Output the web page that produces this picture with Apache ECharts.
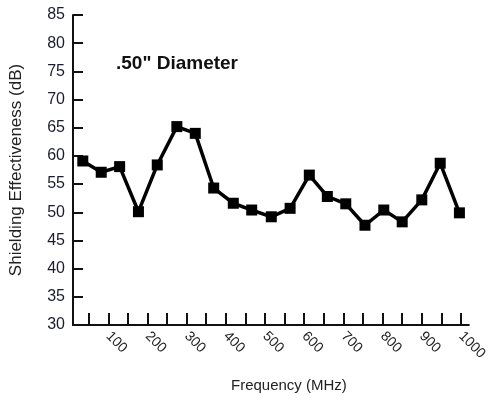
<!DOCTYPE html>
<html>
<head>
<meta charset="utf-8">
<script src="https://cdn.jsdelivr.net/npm/echarts@6/dist/echarts.min.js"></script>
<style>
html,body{margin:0;padding:0;background:#fff;}
#chart{width:490px;height:401px;}
</style>
</head>
<body>
<div id="chart"></div>
<script>
// Frequency (MHz) of each measured point
const frequencies = [35, 82, 129, 177, 225, 275, 322, 369, 419, 466, 516, 564, 613, 659, 706, 755, 803, 850, 900, 947, 996];
// Shielding effectiveness (dB)
const shielding = [59.1, 57.1, 58.1, 50.1, 58.4, 65.2, 64.0, 54.3, 51.6, 50.4, 49.2, 50.7, 56.6, 52.8, 51.5, 47.7, 50.4, 48.3, 52.2, 58.7, 49.9];
// x tick positions and labels
const xTicks = [50, 100, 150, 200, 250, 300, 350, 400, 450, 500, 550, 600, 650, 700, 750, 800, 850, 900, 950, 1000];
const xLabels = [100, 200, 300, 400, 500, 600, 700, 800, 900, 1000];
const titleText = '.50" Diameter';

const chart = echarts.init(document.getElementById('chart'));
const font = 'Liberation Sans, Arial, Helvetica, sans-serif';
chart.setOption({
  animation: false,
  backgroundColor: '#ffffff',
  title: {
    text: titleText,
    left: 116,
    top: 54,
    padding: 0,
    textStyle: { fontFamily: font, fontSize: 19, fontWeight: 'bold', color: '#111' }
  },
  grid: { left: 69, right: 13, top: 15, bottom: 76, containLabel: false },
  xAxis: {
    type: 'value',
    min: 10,
    max: 1020,
    name: 'Frequency (MHz)',
    nameLocation: 'middle',
    nameGap: 53,
    nameTextStyle: { fontFamily: font, fontSize: 15, color: '#222', padding: [0, 0, 0, 36] },
    axisLine: { show: true, lineStyle: { color: '#111', width: 2 } },
    axisTick: { show: true, inside: true, length: 12, customValues: xTicks, lineStyle: { color: '#111', width: 2 } },
    axisLabel: {
      customValues: xLabels,
      rotate: -45,
      margin: 9,
      fontFamily: font,
      fontSize: 14,
      color: '#222',
      formatter: v => String(v)
    },
    splitLine: { show: false }
  },
  yAxis: {
    type: 'value',
    min: 30,
    max: 85,
    interval: 5,
    name: 'Shielding Effectiveness (dB)',
    nameLocation: 'middle',
    nameGap: 48,
    nameRotate: 90,
    nameTextStyle: { fontFamily: font, fontSize: 17, color: '#222' },
    axisLine: { show: true, lineStyle: { color: '#111', width: 2 } },
    axisTick: { show: true, inside: true, length: 10, lineStyle: { color: '#111', width: 2 } },
    axisLabel: { margin: 8, fontFamily: font, fontSize: 16, color: '#1c1c30' },
    splitLine: { show: false }
  },
  series: [{
    type: 'line',
    data: frequencies.map((f, i) => [f, shielding[i]]),
    symbol: 'rect',
    symbolSize: 11,
    lineStyle: { color: '#000', width: 3.5 },
    itemStyle: { color: '#000', borderWidth: 0 },
    z: 5
  }]
});
</script>
</body>
</html>
